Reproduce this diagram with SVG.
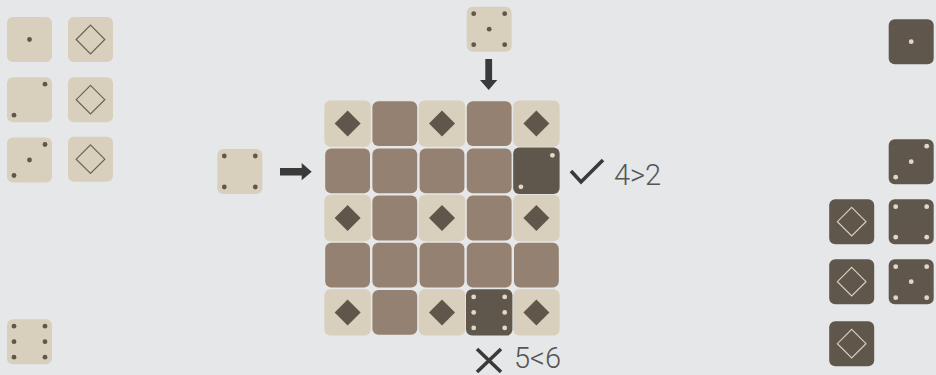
<svg xmlns="http://www.w3.org/2000/svg" width="936" height="375" viewBox="0 0 936 375">
<defs>
<style>
.bg{fill:#e6e7e9}
.lt{fill:#d8cfbd}
.br{fill:#948171}
.dk{fill:#5f574b}
.pd{fill:#5f574b}
.pl{fill:#e2d8c4}
.ol{fill:none;stroke:#6b6152;stroke-width:1.2}
.oll{fill:none;stroke:#d8cfbd;stroke-width:1.2}
.arr{fill:#3a3a3a}
.mk{fill:none;stroke:#3a3a3a;stroke-width:3.6}
.lbl{font-family:Roboto,"Liberation Sans",sans-serif;font-weight:300;font-size:29px;fill:#555}
</style>
<rect id="t" x="-22.5" y="-22.5" width="45" height="45" rx="6"/>
<rect id="g" x="-23.2" y="-23.2" width="46.4" height="46.4" rx="6"/>
<rect id="gb" x="-22.4" y="-22.4" width="44.8" height="44.8" rx="6"/>
<path id="dia" d="M0,-14.3 L14.3,0 L0,14.3 L-14.3,0 Z"/>
<path id="fd" d="M0,-13 L13,0 L0,13 L-13,0 Z"/>
<circle id="p" r="2.4"/>
</defs>
<rect class="bg" width="936" height="375"/>

<g id="left-tiles">
<g id="l1" transform="translate(29.5,39.5)"><use href="#t" class="lt"/><use href="#p" class="pd"/></g>
<g id="l2" transform="translate(29.5,99.7)"><use href="#t" class="lt"/><use href="#p" class="pd" x="15.5" y="-15.5"/><use href="#p" class="pd" x="-15.5" y="15.5"/></g>
<g id="l3" transform="translate(29.5,160)"><use href="#t" class="lt"/><use href="#p" class="pd" x="15.5" y="-15.5"/><use href="#p" class="pd"/><use href="#p" class="pd" x="-15.5" y="15.5"/></g>
<g id="l4" transform="translate(90.5,39.5)"><use href="#t" class="lt"/><use href="#dia" class="ol"/></g>
<g id="l5" transform="translate(90.5,99.7)"><use href="#t" class="lt"/><use href="#dia" class="ol"/></g>
<g id="l6" transform="translate(90.5,159.2)"><use href="#t" class="lt"/><use href="#dia" class="ol"/></g>
<g id="l7" transform="translate(29.5,341.7)"><use href="#t" class="lt"/><use href="#p" class="pd" x="-15.5" y="-15.5"/><use href="#p" class="pd" x="15.5" y="-15.5"/><use href="#p" class="pd" x="-15.5" y="0"/><use href="#p" class="pd" x="15.5" y="0"/><use href="#p" class="pd" x="-15.5" y="15.5"/><use href="#p" class="pd" x="15.5" y="15.5"/></g>
</g>

<g id="top-die" transform="translate(489.2,29.2)"><use href="#t" class="lt"/><use href="#p" class="pd" x="-15.5" y="-15.5"/><use href="#p" class="pd" x="15.5" y="-15.5"/><use href="#p" class="pd"/><use href="#p" class="pd" x="-15.5" y="15.5"/><use href="#p" class="pd" x="15.5" y="15.5"/></g>
<g id="left-die" transform="translate(239.8,171.5)"><use href="#t" class="lt"/><use href="#p" class="pd" x="-15.5" y="-15.5"/><use href="#p" class="pd" x="15.5" y="-15.5"/><use href="#p" class="pd" x="-15.5" y="15.5"/><use href="#p" class="pd" x="15.5" y="15.5"/></g>

<g id="connectors">
<path class="arr" d="M280,168 H301.7 V163 L311.7,171.7 L301.7,180.3 V175.4 H280 Z"/>
<path class="arr" d="M485.3,59 H492.1 V80 H497.3 L488.7,90 L480,80 H485.3 Z"/>
</g>

<g id="grid">
<g id="r1">
<g transform="translate(347.6,123.6)"><use href="#g" class="lt"/><use href="#fd" class="dk"/></g>
<g transform="translate(394.8,123.6)"><use href="#gb" class="br"/></g>
<g transform="translate(442,123.6)"><use href="#g" class="lt"/><use href="#fd" class="dk"/></g>
<g transform="translate(489.2,123.6)"><use href="#gb" class="br"/></g>
<g transform="translate(536.4,123.6)"><use href="#g" class="lt"/><use href="#fd" class="dk"/></g>
</g>
<g id="r2">
<g transform="translate(347.6,170.8)"><use href="#gb" class="br"/></g>
<g transform="translate(394.8,170.8)"><use href="#gb" class="br"/></g>
<g transform="translate(442,170.8)"><use href="#gb" class="br"/></g>
<g transform="translate(489.2,170.8)"><use href="#gb" class="br"/></g>
<g id="cell-2" transform="translate(536.4,170.8)"><use href="#g" class="dk"/><use href="#p" class="pl" x="16" y="-15.5"/><use href="#p" class="pl" x="-15.5" y="16"/></g>
</g>
<g id="r3">
<g transform="translate(347.6,218)"><use href="#g" class="lt"/><use href="#fd" class="dk"/></g>
<g transform="translate(394.8,218)"><use href="#gb" class="br"/></g>
<g transform="translate(442,218)"><use href="#g" class="lt"/><use href="#fd" class="dk"/></g>
<g transform="translate(489.2,218)"><use href="#gb" class="br"/></g>
<g transform="translate(536.4,218)"><use href="#g" class="lt"/><use href="#fd" class="dk"/></g>
</g>
<g id="r4">
<g transform="translate(347.6,265.2)"><use href="#gb" class="br"/></g>
<g transform="translate(394.8,265.2)"><use href="#gb" class="br"/></g>
<g transform="translate(442,265.2)"><use href="#gb" class="br"/></g>
<g transform="translate(489.2,265.2)"><use href="#gb" class="br"/></g>
<g transform="translate(536.4,265.2)"><use href="#gb" class="br"/></g>
</g>
<g id="r5">
<g transform="translate(347.6,312.4)"><use href="#g" class="lt"/><use href="#fd" class="dk"/></g>
<g transform="translate(394.8,312.4)"><use href="#gb" class="br"/></g>
<g transform="translate(442,312.4)"><use href="#g" class="lt"/><use href="#fd" class="dk"/></g>
<g id="cell-6" transform="translate(489.2,312.4)"><use href="#g" class="dk"/><use href="#p" class="pl" x="-15.5" y="-15.5"/><use href="#p" class="pl" x="15.5" y="-15.5"/><use href="#p" class="pl" x="-15.5" y="0"/><use href="#p" class="pl" x="15.5" y="0"/><use href="#p" class="pl" x="-15.5" y="15.5"/><use href="#p" class="pl" x="15.5" y="15.5"/></g>
<g transform="translate(536.4,312.4)"><use href="#g" class="lt"/><use href="#fd" class="dk"/></g>
</g>
</g>

<g id="label-ok">
<polyline class="mk" points="571,171 581,182 603,160"/>
<text class="lbl" x="614" y="185">4&gt;2</text>
</g>
<g id="label-bad">
<path class="mk" d="M477,349 L501,372 M501,349 L477,372"/>
<text class="lbl" x="514" y="368">5&lt;6</text>
</g>

<g id="right-tiles">
<g id="r-1" transform="translate(911.2,41.7)"><use href="#t" class="dk"/><use href="#p" class="pl"/></g>
<g id="r-3" transform="translate(911.2,161.7)"><use href="#t" class="dk"/><use href="#p" class="pl" x="15.5" y="-15.5"/><use href="#p" class="pl"/><use href="#p" class="pl" x="-15.5" y="15.5"/></g>
<g id="r-4" transform="translate(911.2,221.7)"><use href="#t" class="dk"/><use href="#p" class="pl" x="-15.5" y="-15"/><use href="#p" class="pl" x="15.5" y="-15"/><use href="#p" class="pl" x="-15.5" y="15.5"/><use href="#p" class="pl" x="15.5" y="15.5"/></g>
<g id="r-5" transform="translate(911.2,281.7)"><use href="#t" class="dk"/><use href="#p" class="pl" x="-15.5" y="-15"/><use href="#p" class="pl" x="15.5" y="-15"/><use href="#p" class="pl"/><use href="#p" class="pl" x="-15.5" y="16"/><use href="#p" class="pl" x="15.5" y="16"/></g>
<g id="r-d1" transform="translate(851.7,221.7)"><use href="#t" class="dk"/><use href="#dia" class="oll"/></g>
<g id="r-d2" transform="translate(851.7,281.7)"><use href="#t" class="dk"/><use href="#dia" class="oll"/></g>
<g id="r-d3" transform="translate(851.7,343.7)"><use href="#t" class="dk"/><use href="#dia" class="oll"/></g>
</g>
</svg>
